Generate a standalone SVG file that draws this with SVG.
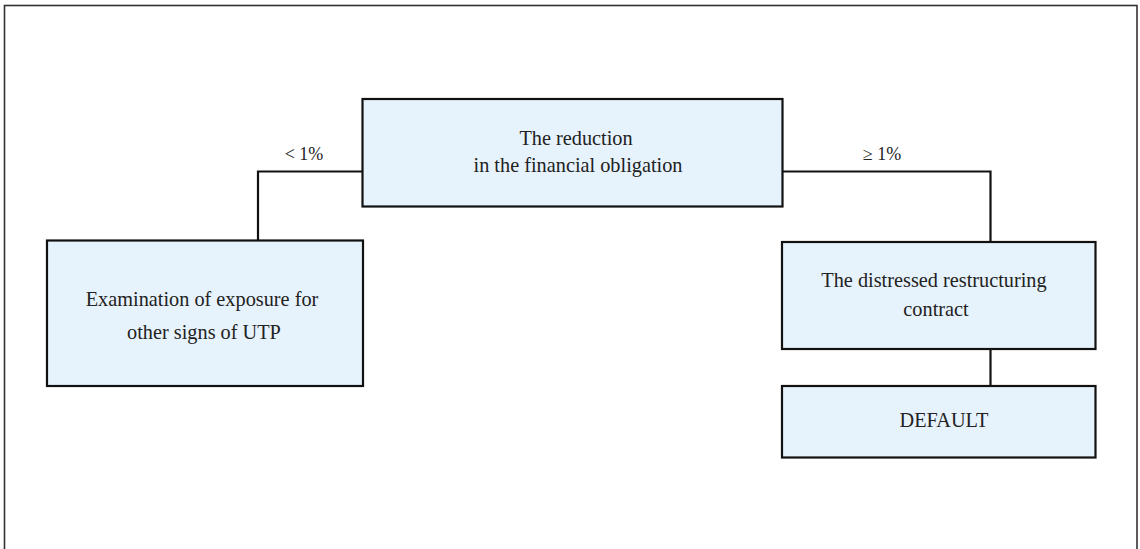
<svg xmlns="http://www.w3.org/2000/svg" width="1140" height="549" viewBox="0 0 1140 549">
<style>
.box{fill:#E7F3FC;stroke:#111;stroke-width:2.2}
.t{font-family:"Liberation Serif","Times New Roman",serif;font-size:20.3px;fill:#222;text-anchor:middle}
.lbl{font-family:"Liberation Serif","Times New Roman",serif;font-size:18px;fill:#222;text-anchor:middle}
.c{fill:none;stroke:#111;stroke-width:2.2}
</style>
<rect x="0" y="0" width="1140" height="549" fill="#fff"/>
<rect x="4.5" y="5.5" width="1132.5" height="560" fill="none" stroke="#333" stroke-width="1.6"/>
<g id="connectors">
<polyline class="c" points="362.5,171.5 258,171.5 258,240.5"/>
<polyline class="c" points="782.5,171.5 990.5,171.5 990.5,242"/>
<line class="c" x1="990.5" y1="349" x2="990.5" y2="386"/>
<text class="lbl" x="304" y="160">&lt; 1%</text>
<text class="lbl" x="882" y="160">≥ 1%</text>
</g>
<g id="reduction">
<rect class="box" x="362.5" y="99" width="420" height="107.5"/>
<text class="t" x="576" y="145">The reduction</text>
<text class="t" x="578" y="172">in the financial obligation</text>
</g>
<g id="examination">
<rect class="box" x="47" y="240.5" width="316" height="145.5"/>
<text class="t" x="202" y="306">Examination of exposure for</text>
<text class="t" x="204" y="339">other signs of UTP</text>
</g>
<g id="distressed">
<rect class="box" x="782" y="242" width="313.5" height="107"/>
<text class="t" x="934" y="287">The distressed restructuring</text>
<text class="t" x="936" y="316">contract</text>
</g>
<g id="default">
<rect class="box" x="782" y="386" width="313.5" height="71.5"/>
<text class="t" x="944" y="427">DEFAULT</text>
</g>
</svg>
